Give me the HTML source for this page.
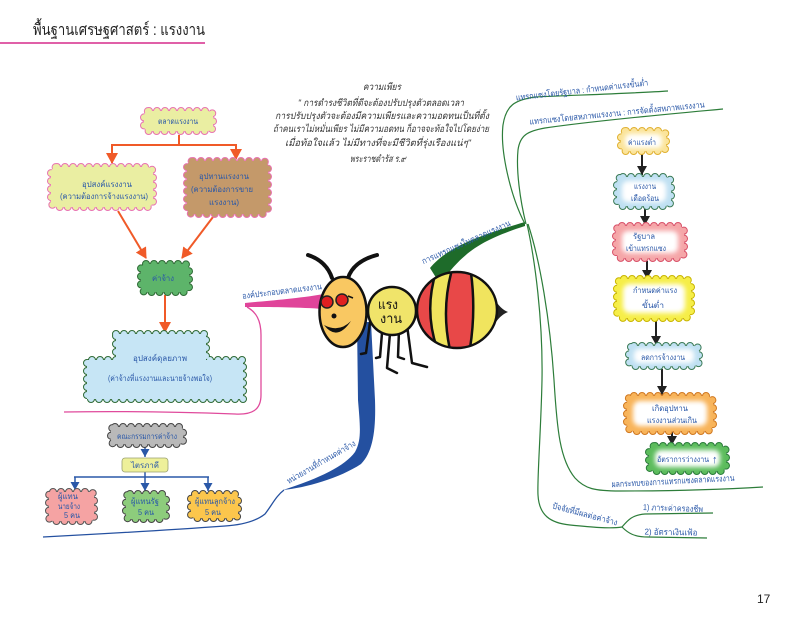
<!DOCTYPE html>
<html><head><meta charset="utf-8"><style>
html,body{margin:0;padding:0;background:#fff;}
svg{display:block;}
text{font-family:"Liberation Sans","DejaVu Sans",sans-serif;}
.d{stroke-dasharray:0 8;stroke-linecap:round;}
.bt{fill:#2a58a8;font-size:8px;text-anchor:middle;}
.lb{fill:#2a58a8;font-size:8.5px;text-anchor:middle;}
.q{fill:#333;font-size:9.5px;font-style:italic;text-anchor:middle;}
</style></head><body>
<svg width="800" height="624" viewBox="0 0 800 624" xmlns="http://www.w3.org/2000/svg">
<defs>
<marker id="ao" markerUnits="userSpaceOnUse" markerWidth="12" markerHeight="12" refX="10" refY="6" orient="auto"><path d="M0,0 L11,6 L0,12 Z" fill="#f05a28"/></marker>
<marker id="ab" markerUnits="userSpaceOnUse" markerWidth="9" markerHeight="9" refX="8" refY="4.5" orient="auto"><path d="M0,0 L8,4.5 L0,9 Z" fill="#2a58a8"/></marker>
<marker id="ak" markerUnits="userSpaceOnUse" markerWidth="10" markerHeight="10" refX="9" refY="5" orient="auto"><path d="M0,0 L9,5 L0,10 Z" fill="#222"/></marker>
<filter id="bl" x="-50%" y="-50%" width="200%" height="200%"><feGaussianBlur stdDeviation="2.5"/></filter>
<clipPath id="abd"><ellipse cx="457" cy="310" rx="40" ry="38"/></clipPath>
</defs>

<!-- header -->
<text x="33" y="35" font-size="16" fill="#222" textLength="172" lengthAdjust="spacingAndGlyphs">พื้นฐานเศรษฐศาสตร์ : แรงงาน</text>
<rect x="0" y="42" width="205" height="2" fill="#e060a8"/>

<!-- quote -->
<text class="q" x="382" y="90" textLength="38" lengthAdjust="spacingAndGlyphs">ความเพียร</text>
<text class="q" x="381" y="106" textLength="166" lengthAdjust="spacingAndGlyphs">" การดำรงชีวิตที่ดีจะต้องปรับปรุงตัวตลอดเวลา</text>
<text class="q" x="382" y="119" textLength="214" lengthAdjust="spacingAndGlyphs">การปรับปรุงตัวจะต้องมีความเพียรและความอดทนเป็นที่ตั้ง</text>
<text class="q" x="381" y="132" textLength="216" lengthAdjust="spacingAndGlyphs">ถ้าคนเราไม่หมั่นเพียร ไม่มีความอดทน ก็อาจจะท้อใจไปโดยง่าย</text>
<text class="q" x="378" y="146" textLength="186" lengthAdjust="spacingAndGlyphs">เมื่อท้อใจแล้ว ไม่มีทางที่จะมีชีวิตที่รุ่งเรืองแน่ๆ"</text>
<text class="q" x="378" y="162" textLength="56" lengthAdjust="spacingAndGlyphs">พระราชดำรัส ร.๙</text>

<!-- left flow connectors -->
<g stroke="#f05a28" stroke-width="2" fill="none">
<path d="M179,135 V145"/>
<path d="M111,145 H237"/>
<path d="M112,145 V163" marker-end="url(#ao)"/>
<path d="M236,145 V159" marker-end="url(#ao)"/>
<path d="M118,211 L146,258" marker-end="url(#ao)"/>
<path d="M213,217 L182,258" marker-end="url(#ao)"/>
<path d="M165,295 V332" marker-end="url(#ao)"/>
</g>

<!-- cloud: ตลาดแรงงาน -->
<g>
<rect class="d" x="144" y="111" width="69" height="20" rx="5" fill="#eaeea2" stroke="#e872b0" stroke-width="8"/>
<rect class="d" x="144" y="111" width="69" height="20" rx="5" fill="none" stroke="#eaeea2" stroke-width="6"/>
<rect x="144" y="111" width="69" height="20" rx="5" fill="#eaeea2"/>
<text class="bt" x="178" y="124" textLength="40" lengthAdjust="spacingAndGlyphs">ตลาดแรงงาน</text>
</g>
<!-- อุปสงค์แรงงาน -->
<g>
<rect class="d" x="51" y="167" width="102" height="40" rx="6" fill="#eaeea2" stroke="#e872b0" stroke-width="8"/>
<rect class="d" x="51" y="167" width="102" height="40" rx="6" fill="none" stroke="#eaeea2" stroke-width="6"/>
<rect x="51" y="167" width="102" height="40" rx="6" fill="#eaeea2"/>
<text class="bt" x="107" y="187" textLength="50" lengthAdjust="spacingAndGlyphs">อุปสงค์แรงงาน</text>
<text class="bt" x="104" y="199" textLength="88" lengthAdjust="spacingAndGlyphs">(ความต้องการจ้างแรงงาน)</text>
</g>
<!-- อุปทานแรงงาน -->
<g>
<rect class="d" x="187" y="161" width="81" height="53" rx="6" fill="#c4996a" stroke="#e872b0" stroke-width="8"/>
<rect class="d" x="187" y="161" width="81" height="53" rx="6" fill="none" stroke="#c4996a" stroke-width="6"/>
<rect x="187" y="161" width="81" height="53" rx="6" fill="#c4996a"/>
<text class="bt" x="224" y="179" textLength="50" lengthAdjust="spacingAndGlyphs">อุปทานแรงงาน</text>
<text class="bt" x="222" y="192" textLength="62" lengthAdjust="spacingAndGlyphs">(ความต้องการขาย</text>
<text class="bt" x="224" y="205" textLength="30" lengthAdjust="spacingAndGlyphs">แรงงาน)</text>
</g>
<!-- ค่าจ้าง -->
<g>
<rect class="d" x="141" y="264" width="48" height="28" rx="5" fill="#5db46a" stroke="#2e6a35" stroke-width="8"/>
<rect class="d" x="141" y="264" width="48" height="28" rx="5" fill="none" stroke="#5db46a" stroke-width="6"/>
<rect x="141" y="264" width="48" height="28" rx="5" fill="#5db46a"/>
<text class="bt" x="163" y="281" textLength="22" lengthAdjust="spacingAndGlyphs">ค่าจ้าง</text>
</g>
<!-- อุปสงค์ดุลยภาพ big cloud -->
<g>
<path class="d" d="M116,334 H206 V360 H243 V399 H87 V360 H116 Z" fill="#c6e5f5" stroke="#2e6a35" stroke-width="8"/>
<path class="d" d="M116,334 H206 V360 H243 V399 H87 V360 H116 Z" fill="none" stroke="#c6e5f5" stroke-width="6"/>
<path d="M116,334 H206 V360 H243 V399 H87 V360 H116 Z" fill="#c6e5f5"/>
<text class="bt" x="160" y="361" textLength="54" lengthAdjust="spacingAndGlyphs">อุปสงค์ดุลยภาพ</text>
<text class="bt" x="160" y="381" textLength="104" lengthAdjust="spacingAndGlyphs">(ค่าจ้างที่แรงงานและนายจ้างพอใจ)</text>
</g>

<!-- pink branch -->
<path d="M247,307 C256,312 261,320 261,335 L261,395 C261,410 252,415 235,414 C180,412 120,411 64,412" stroke="#e04a9c" stroke-width="1.3" fill="none"/>
<path d="M245,303 C265,301 295,299 324,294 L324,309 C295,307 265,307 245,307 Z" fill="#e0449a"/>
<g transform="translate(282,291) rotate(-7)"><text class="lb" x="0" y="3" textLength="80" lengthAdjust="spacingAndGlyphs">องค์ประกอบตลาดแรงงาน</text></g>

<!-- org chart -->
<g stroke="#2a58a8" stroke-width="1.5" fill="none">
<path d="M145,447 V457" marker-end="url(#ab)"/>
<path d="M145,472 V477"/>
<path d="M74,477 H209"/>
<path d="M75,477 V490" marker-end="url(#ab)"/>
<path d="M145,477 V491" marker-end="url(#ab)"/>
<path d="M208,477 V491" marker-end="url(#ab)"/>
</g>
<g>
<rect class="d" x="111" y="427" width="72" height="17" rx="4" fill="#b9b9b9" stroke="#444" stroke-width="8"/>
<rect class="d" x="111" y="427" width="72" height="17" rx="4" fill="none" stroke="#b9b9b9" stroke-width="6"/>
<rect x="111" y="427" width="72" height="17" rx="4" fill="#b9b9b9"/>
<text class="bt" x="147" y="439" textLength="60" lengthAdjust="spacingAndGlyphs">คณะกรรมการค่าจ้าง</text>
</g>
<g>
<rect x="122" y="458" width="46" height="14" rx="3" fill="#eef09a" stroke="#9aa070" stroke-width="0.8"/>
<text class="bt" x="145" y="468" textLength="28" lengthAdjust="spacingAndGlyphs">ไตรภาคี</text>
</g>
<g>
<rect class="d" x="49" y="492" width="45" height="29" rx="4" fill="#f5a3a3" stroke="#555" stroke-width="8"/>
<rect class="d" x="49" y="492" width="45" height="29" rx="4" fill="none" stroke="#f5a3a3" stroke-width="6"/>
<rect x="49" y="492" width="45" height="29" rx="4" fill="#f5a3a3"/>
<text class="bt" x="68" y="499" textLength="20" lengthAdjust="spacingAndGlyphs">ผู้แทน</text>
<text class="bt" x="69" y="509" textLength="22" lengthAdjust="spacingAndGlyphs">นายจ้าง</text>
<text class="bt" x="72" y="518" textLength="16" lengthAdjust="spacingAndGlyphs">5 คน</text>
</g>
<g>
<rect class="d" x="126" y="494" width="40" height="25" rx="4" fill="#8dcc7c" stroke="#444" stroke-width="8"/>
<rect class="d" x="126" y="494" width="40" height="25" rx="4" fill="none" stroke="#8dcc7c" stroke-width="6"/>
<rect x="126" y="494" width="40" height="25" rx="4" fill="#8dcc7c"/>
<text class="bt" x="145" y="504" textLength="28" lengthAdjust="spacingAndGlyphs">ผู้แทนรัฐ</text>
<text class="bt" x="146" y="515" textLength="16" lengthAdjust="spacingAndGlyphs">5 คน</text>
</g>
<g>
<rect class="d" x="191" y="494" width="47" height="24" rx="4" fill="#fcc64c" stroke="#444" stroke-width="8"/>
<rect class="d" x="191" y="494" width="47" height="24" rx="4" fill="none" stroke="#fcc64c" stroke-width="6"/>
<rect x="191" y="494" width="47" height="24" rx="4" fill="#fcc64c"/>
<text class="bt" x="215" y="504" textLength="40" lengthAdjust="spacingAndGlyphs">ผู้แทนลูกจ้าง</text>
<text class="bt" x="213" y="515" textLength="16" lengthAdjust="spacingAndGlyphs">5 คน</text>
</g>

<!-- blue branch -->
<path d="M357,322 L358,400 C360,425 362,440 355,452 C345,466 320,478 283,490 C305,488 340,478 361,464 C373,452 376,430 375,400 L371,322 Z" fill="#2450a0"/>
<path d="M284,490 C276,496 272,505 265,514 C255,522 240,525 225,526 C170,530 100,534 43,537" stroke="#2450a0" stroke-width="1.3" fill="none"/>
<g transform="translate(321,462) rotate(-30)"><text class="lb" x="0" y="3" textLength="78" lengthAdjust="spacingAndGlyphs">หน่วยงานที่กำหนดค่าจ้าง</text></g>

<!-- green branch -->
<path d="M430,268 C445,250 470,238 525,222 L525,226 C478,241 462,254 440,284 Z" fill="#1e6b2a"/>
<g transform="translate(466,242) rotate(-24)"><text class="lb" x="0" y="3" textLength="96" lengthAdjust="spacingAndGlyphs">การแทรกแซงในตลาดแรงงาน</text></g>
<g stroke="#2d7d3a" stroke-width="1.2" fill="none">
<path d="M525,224 C510,195 500,150 503,125 C506,105 515,100 535,97 C580,95 640,93 668,91"/>
<path d="M526,224 C520,200 516,170 518,150 C520,135 528,131 545,128 C600,120 680,113 723,109"/>
<path d="M527,224 C535,260 543,320 542,380 C541,430 537,480 538,495 C539,515 550,523 570,525 C590,527 610,529 622,527"/>
<path d="M622,527 C628,520 632,515 645,514 L713,513"/>
<path d="M622,527 C628,533 634,537 648,537 L707,538"/>
<path d="M528,224 C540,260 550,320 554,380 C557,430 560,460 575,478 C585,489 595,491 620,491 C680,491 730,489 763,487"/>
</g>
<g transform="translate(582,90) rotate(-6.5)"><text class="lb" x="0" y="3" textLength="133" lengthAdjust="spacingAndGlyphs">แทรกแซงโดยรัฐบาล : กำหนดค่าแรงขั้นต่ำ</text></g>
<g transform="translate(617,113) rotate(-5.6)"><text class="lb" x="0" y="3" textLength="176" lengthAdjust="spacingAndGlyphs">แทรกแซงโดยสหภาพแรงงาน : การจัดตั้งสหภาพแรงงาน</text></g>
<g transform="translate(673,481) rotate(-3)"><text class="lb" x="0" y="3" textLength="123" lengthAdjust="spacingAndGlyphs">ผลกระทบของการแทรกแซงตลาดแรงงาน</text></g>
<g transform="translate(585,514) rotate(15)"><text class="lb" x="0" y="3" textLength="67" lengthAdjust="spacingAndGlyphs">ปัจจัยที่มีผลต่อค่าจ้าง</text></g>
<g transform="translate(673,508) rotate(2)"><text class="lb" x="0" y="3" font-size="10" textLength="60" lengthAdjust="spacingAndGlyphs">1) ภาระค่าครองชีพ</text></g>
<g transform="translate(671,532) rotate(1)"><text class="lb" x="0" y="3" font-size="10" textLength="53" lengthAdjust="spacingAndGlyphs">2) อัตราเงินเฟ้อ</text></g>

<!-- right flow arrows -->
<g stroke="#222" stroke-width="2" fill="none">
<path d="M642,154 V175" marker-end="url(#ak)"/>
<path d="M645,209 V225" marker-end="url(#ak)"/>
<path d="M647,261 V279" marker-end="url(#ak)"/>
<path d="M656,321 V345" marker-end="url(#ak)"/>
<path d="M662,369 V395" marker-end="url(#ak)"/>
<path d="M672,432 V445" marker-end="url(#ak)"/>
</g>

<!-- right clouds -->
<g>
<rect class="d" x="621" y="131" width="45" height="20" rx="5" fill="#fbe49a" stroke="#e0b030" stroke-width="8"/>
<rect class="d" x="621" y="131" width="45" height="20" rx="5" fill="none" stroke="#fbe49a" stroke-width="6"/>
<rect x="621" y="131" width="45" height="20" rx="5" fill="#fbe49a"/>
<rect x="625" y="134" width="37" height="14" rx="5" fill="#fff" filter="url(#bl)"/>
<text class="bt" x="642" y="145" textLength="28" lengthAdjust="spacingAndGlyphs">ค่าแรงต่ำ</text>
</g>
<g>
<rect class="d" x="617" y="177" width="54" height="29" rx="6" fill="#bfe0f2" stroke="#3a7a55" stroke-width="8"/>
<rect class="d" x="617" y="177" width="54" height="29" rx="6" fill="none" stroke="#bfe0f2" stroke-width="6"/>
<rect x="617" y="177" width="54" height="29" rx="6" fill="#bfe0f2"/>
<rect x="622" y="181" width="44" height="21" rx="6" fill="#fff" filter="url(#bl)"/>
<text class="bt" x="645" y="189" textLength="22" lengthAdjust="spacingAndGlyphs">แรงงาน</text>
<text class="bt" x="645" y="201" textLength="28" lengthAdjust="spacingAndGlyphs">เดือดร้อน</text>
</g>
<g>
<rect class="d" x="616" y="226" width="68" height="32" rx="6" fill="#f5a6a8" stroke="#d85068" stroke-width="8"/>
<rect class="d" x="616" y="226" width="68" height="32" rx="6" fill="none" stroke="#f5a6a8" stroke-width="6"/>
<rect x="616" y="226" width="68" height="32" rx="6" fill="#f5a6a8"/>
<rect x="622" y="231" width="56" height="22" rx="6" fill="#fff" filter="url(#bl)"/>
<text class="bt" x="644" y="239" textLength="22" lengthAdjust="spacingAndGlyphs">รัฐบาล</text>
<text class="bt" x="646" y="251" textLength="40" lengthAdjust="spacingAndGlyphs">เข้าแทรกแซง</text>
</g>
<g>
<rect class="d" x="617" y="279" width="74" height="39" rx="7" fill="#f6ee48" stroke="#c8b400" stroke-width="8"/>
<rect class="d" x="617" y="279" width="74" height="39" rx="7" fill="none" stroke="#f6ee48" stroke-width="6"/>
<rect x="617" y="279" width="74" height="39" rx="7" fill="#f6ee48"/>
<rect x="623" y="284" width="62" height="29" rx="7" fill="#fff" filter="url(#bl)"/>
<text class="bt" x="655" y="293" textLength="44" lengthAdjust="spacingAndGlyphs">กำหนดค่าแรง</text>
<text class="bt" x="653" y="308" textLength="22" lengthAdjust="spacingAndGlyphs">ขั้นต่ำ</text>
</g>
<g>
<rect class="d" x="629" y="346" width="70" height="20" rx="5" fill="#bfe0f2" stroke="#3a7a55" stroke-width="8"/>
<rect class="d" x="629" y="346" width="70" height="20" rx="5" fill="none" stroke="#bfe0f2" stroke-width="6"/>
<rect x="629" y="346" width="70" height="20" rx="5" fill="#bfe0f2"/>
<rect x="634" y="349" width="60" height="14" rx="5" fill="#fff" filter="url(#bl)"/>
<text class="bt" x="663" y="360" textLength="44" lengthAdjust="spacingAndGlyphs">ลดการจ้างงาน</text>
</g>
<g>
<rect class="d" x="627" y="396" width="86" height="35" rx="7" fill="#f8b45a" stroke="#d07820" stroke-width="8"/>
<rect class="d" x="627" y="396" width="86" height="35" rx="7" fill="none" stroke="#f8b45a" stroke-width="6"/>
<rect x="627" y="396" width="86" height="35" rx="7" fill="#f8b45a"/>
<rect x="633" y="401" width="74" height="25" rx="7" fill="#fff" filter="url(#bl)"/>
<text class="bt" x="670" y="411" textLength="36" lengthAdjust="spacingAndGlyphs">เกิดอุปทาน</text>
<text class="bt" x="672" y="423" textLength="50" lengthAdjust="spacingAndGlyphs">แรงงานส่วนเกิน</text>
</g>
<g>
<rect class="d" x="649" y="446" width="77" height="25" rx="6" fill="#5cbc5c" stroke="#2a7a3a" stroke-width="8"/>
<rect class="d" x="649" y="446" width="77" height="25" rx="6" fill="none" stroke="#5cbc5c" stroke-width="6"/>
<rect x="649" y="446" width="77" height="25" rx="6" fill="#5cbc5c"/>
<rect x="655" y="450" width="65" height="17" rx="6" fill="#fff" filter="url(#bl)"/>
<text class="bt" x="683" y="462" font-size="8.5" textLength="52" lengthAdjust="spacingAndGlyphs">อัตราการว่างงาน</text>
<text x="712" y="463" font-size="11" font-weight="bold" fill="#2a58a8">↑</text>
</g>

<!-- bee -->
<g stroke="#111" stroke-linecap="round" fill="none">
<path d="M332,278 C328,266 320,259 308,255" stroke-width="4"/>
<path d="M348,278 C352,266 362,259 377,255" stroke-width="4"/>
<g stroke-width="2.5" stroke-linejoin="round">
<path d="M370,322 L366,353 L361,354"/>
<path d="M382,333 L380,357 L376,358"/>
<path d="M390,333 L387,368 L397,373"/>
<path d="M399,330 L398,357 L404,359"/>
<path d="M407,325 L412,363 L427,367"/>
</g>
</g>
<ellipse cx="343" cy="312" rx="23.5" ry="35" fill="#f9c862" stroke="#111" stroke-width="2.5"/>
<circle cx="327" cy="302" r="6" fill="#e02020" stroke="#222" stroke-width="1.5"/>
<circle cx="342" cy="300" r="6" fill="#e02020" stroke="#222" stroke-width="1.5"/>
<path d="M348,296 L353,298" stroke="#111" stroke-width="1.5"/>
<circle cx="334" cy="316" r="2.5" fill="#111"/>
<path d="M324,325 Q337,342 351,321 Q339,333 324,325 Z" fill="#111"/>
<circle cx="392" cy="311" r="24" fill="#f0e46a" stroke="#111" stroke-width="2.5"/>
<text x="388" y="309" font-size="13" fill="#111" text-anchor="middle" textLength="20" lengthAdjust="spacingAndGlyphs">แรง</text>
<text x="391" y="323" font-size="13" fill="#111" text-anchor="middle" textLength="22" lengthAdjust="spacingAndGlyphs">งาน</text>
<path d="M494,298 Q500,309 508,312 Q500,315 494,325 Z" fill="#222"/>
<g clip-path="url(#abd)">
<rect x="415" y="270" width="85" height="80" fill="#f0e45e"/>
<path d="M410,265 L438,266 Q422,310 439,354 L410,356 Z" fill="#e84848"/>
<path d="M453,266 Q440,310 451,354 L469,354 Q477,310 470,266 Z" fill="#e84848"/>
<g stroke="#111" stroke-width="2.5" fill="none">
<path d="M438,266 Q422,310 439,354"/>
<path d="M453,266 Q440,310 451,354"/>
<path d="M470,266 Q477,310 469,354"/>
</g>
</g>
<ellipse cx="457" cy="310" rx="40" ry="38" fill="none" stroke="#111" stroke-width="2.5"/>

<!-- page number -->
<text x="757" y="603" font-size="12" fill="#222">17</text>
</svg>
</body></html>
